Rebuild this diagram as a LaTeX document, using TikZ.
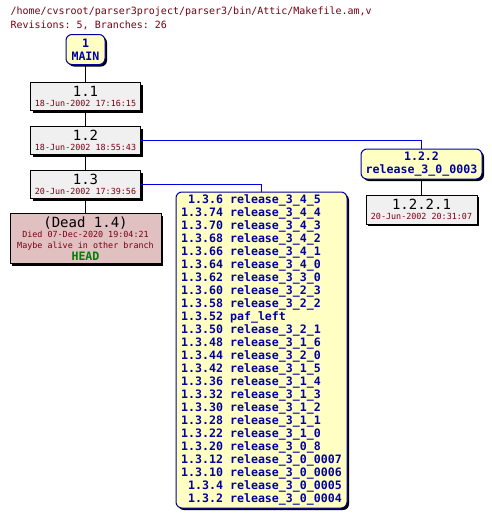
\documentclass[tikz,border=0pt]{standalone}
\usepackage{fontspec}
\setmonofont{DejaVu Sans Mono}
\usepackage{xcolor}
\usepackage{tikz}
\usetikzlibrary{positioning}
\usetikzlibrary{shadows}

\definecolor{tagblue}{RGB}{0,0,160}
\definecolor{linkblue}{RGB}{0,0,225}
\definecolor{datered}{RGB}{120,0,20}
\definecolor{tagfill}{RGB}{255,255,195}
\definecolor{revfill}{RGB}{240,240,240}
\definecolor{deadfill}{RGB}{224,192,192}
\definecolor{headgreen}{RGB}{0,128,0}

\newcommand{\revtext}[2]{{\fontsize{14}{14}\selectfont #1}\\[-2pt]{\fontsize{8.4}{8.4}\selectfont\color{datered}#2}}

\begin{document}
\begin{tikzpicture}[x=1pt, y=-1pt, node distance = 44pt, on grid, line width=1pt,
  shad/.style={drop shadow={shadow xshift=2pt, shadow yshift=-2pt, fill=black, opacity=1}},
  rev/.style={rectangle, draw, fill=revfill, shad, minimum width=110pt, minimum height=28pt, inner sep=0pt, align=center, font=\ttfamily},
  tag/.style={rectangle, rounded corners=6pt, draw=tagblue, fill=tagfill, shad, inner sep=0pt, align=center, text=tagblue, font=\ttfamily\bfseries\fontsize{11.6}{13}\selectfont},
  link/.style={draw=linkblue},
  title/.style={anchor=west, inner sep=0pt, text=datered, font=\ttfamily\fontsize{10}{10}\selectfont}]
\useasboundingbox (0,0) rectangle (492,520);

% header
\node[title] (path) at (10,12) {/home/cvsroot/parser3project/parser3/bin/Attic/Makefile.am,v};
\node[title] (count) at (10,25) {Revisions: 5, Branches: 26};

% trunk
\node[tag, minimum width=39pt, minimum height=30pt] (main) at (85.5,49.5) {1\\MAIN};
\node[rev] (r11) [below = 47pt of main] {\revtext{1.1}{18-Jun-2002 17:16:15}};
\node[rev] (r12) [below = of r11] {\revtext{1.2}{18-Jun-2002 18:55:43}};
\node[rev] (r13) [below = of r12] {\revtext{1.3}{20-Jun-2002 17:39:56}};
\node[rev, fill=deadfill, minimum width=151pt, minimum height=50pt] (r14) [below = 54pt of r13]
  {{\fontsize{14}{14}\selectfont (Dead 1.4)}\\[-2pt]
   {\fontsize{8.4}{8.4}\selectfont\color{datered}Died 07-Dec-2020 19:04:21}\\[-1pt]
   {\fontsize{8.4}{8.4}\selectfont\color{datered}Maybe alive in other branch}\\[0pt]
   {\fontsize{11.6}{11.6}\selectfont\bfseries\color{headgreen}HEAD}};

% branch 1.2.2
\node[tag, minimum width=121pt, minimum height=30pt] (b122) at (421.5,164) {1.2.2\\release\_3\_0\_0003};
\node[rev, minimum width=111pt, minimum height=29pt] (r1221) [below = 45.5pt of b122] {\revtext{1.2.2.1}{20-Jun-2002 20:31:07}};

% tags on 1.3
\node[tag, align=left, minimum width=171pt, minimum height=316pt] (b13) at (261.5,350)
  {\hphantom{0}1.3.6 release\_3\_4\_5\\
   1.3.74 release\_3\_4\_4\\
   1.3.70 release\_3\_4\_3\\
   1.3.68 release\_3\_4\_2\\
   1.3.66 release\_3\_4\_1\\
   1.3.64 release\_3\_4\_0\\
   1.3.62 release\_3\_3\_0\\
   1.3.60 release\_3\_2\_3\\
   1.3.58 release\_3\_2\_2\\
   1.3.52 paf\_left\\
   1.3.50 release\_3\_2\_1\\
   1.3.48 release\_3\_1\_6\\
   1.3.44 release\_3\_2\_0\\
   1.3.42 release\_3\_1\_5\\
   1.3.36 release\_3\_1\_4\\
   1.3.32 release\_3\_1\_3\\
   1.3.30 release\_3\_1\_2\\
   1.3.28 release\_3\_1\_1\\
   1.3.22 release\_3\_1\_0\\
   1.3.20 release\_3\_0\_8\\
   1.3.12 release\_3\_0\_0007\\
   1.3.10 release\_3\_0\_0006\\
   \hphantom{0}1.3.4 release\_3\_0\_0005\\
   \hphantom{0}1.3.2 release\_3\_0\_0004};

\path (main) edge (r11)
  (r11) edge (r12)
  (r12) edge (r13)
  (r13) edge (r14)
  (b122) edge (r1221);
\path[link] (r12) -| (b122);
\path[link] (r13) -| (b13);
\end{tikzpicture}
\end{document}
